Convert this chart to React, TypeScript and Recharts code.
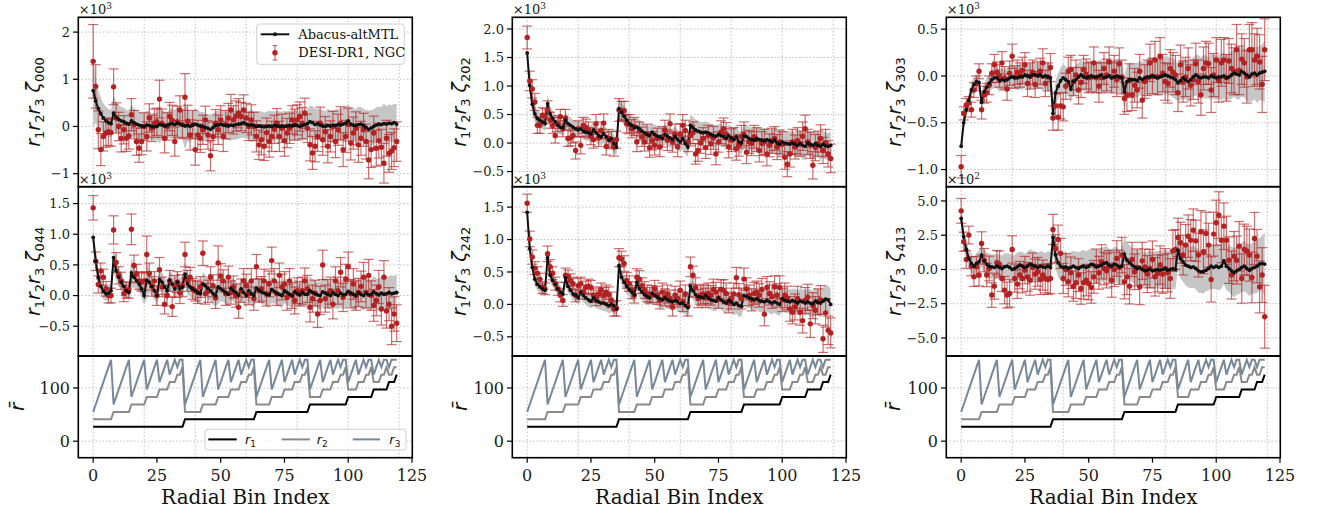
import React from 'react';
import {
  ComposedChart, Line, Area, Scatter, ErrorBar, XAxis, YAxis, CartesianGrid, ReferenceLine,
} from 'recharts';

const SERIF = '"DejaVu Serif", serif';
const SANS = '"DejaVu Sans", sans-serif';
const RED = '#b22222';

// radial bin index (x categories) and axis ticks
const binIndex = Array.from({ length: 120 }, (_, i) => i);
const xTicks = [0, 25, 50, 75, 100, 125];
const xGridLines = [0, 20, 40, 60, 80, 100, 120];

// mean radius of each triangle side per bin index
const r1Values = [
  27, 27, 27, 27, 27, 27, 27, 27, 27, 27,
  27, 27, 27, 27, 27, 27, 27, 27, 27, 27,
  27, 27, 27, 27, 27, 27, 27, 27, 27, 27,
  27, 27, 27, 27, 27, 27, 41, 41, 41, 41,
  41, 41, 41, 41, 41, 41, 41, 41, 41, 41,
  41, 41, 41, 41, 41, 41, 41, 41, 41, 41,
  41, 41, 41, 41, 55, 55, 55, 55, 55, 55,
  55, 55, 55, 55, 55, 55, 55, 55, 55, 55,
  55, 55, 55, 55, 55, 69, 69, 69, 69, 69,
  69, 69, 69, 69, 69, 69, 69, 69, 69, 69,
  83, 83, 83, 83, 83, 83, 83, 83, 83, 83,
  97, 97, 97, 97, 97, 97, 111, 111, 111, 125,
];
const r2Values = [
  41, 41, 41, 41, 41, 41, 41, 41, 55, 55,
  55, 55, 55, 55, 55, 69, 69, 69, 69, 69,
  69, 83, 83, 83, 83, 83, 97, 97, 97, 97,
  111, 111, 111, 125, 125, 139, 55, 55, 55, 55,
  55, 55, 55, 69, 69, 69, 69, 69, 69, 83,
  83, 83, 83, 83, 97, 97, 97, 97, 111, 111,
  111, 125, 125, 139, 69, 69, 69, 69, 69, 69,
  83, 83, 83, 83, 83, 97, 97, 97, 97, 111,
  111, 111, 125, 125, 139, 83, 83, 83, 83, 83,
  97, 97, 97, 97, 111, 111, 111, 125, 125, 139,
  97, 97, 97, 97, 111, 111, 111, 125, 125, 139,
  111, 111, 111, 125, 125, 139, 125, 125, 139, 139,
];
const r3Values = [
  55, 69, 83, 97, 111, 125, 139, 153, 69, 83,
  97, 111, 125, 139, 153, 83, 97, 111, 125, 139,
  153, 97, 111, 125, 139, 153, 111, 125, 139, 153,
  125, 139, 153, 139, 153, 153, 69, 83, 97, 111,
  125, 139, 153, 83, 97, 111, 125, 139, 153, 97,
  111, 125, 139, 153, 111, 125, 139, 153, 125, 139,
  153, 139, 153, 153, 83, 97, 111, 125, 139, 153,
  97, 111, 125, 139, 153, 111, 125, 139, 153, 125,
  139, 153, 139, 153, 153, 97, 111, 125, 139, 153,
  111, 125, 139, 153, 125, 139, 153, 139, 153, 153,
  111, 125, 139, 153, 125, 139, 153, 139, 153, 153,
  125, 139, 153, 139, 153, 153, 139, 153, 153, 153,
];

// zeta_000 (x10^3)
const zeta000Model = [
  0.76, 0.54, 0.38, 0.27, 0.18, 0.12, 0.08, 0.06, 0.28, 0.2,
  0.15, 0.12, 0.1, 0.07, 0.05, 0.12, 0.08, 0.05, 0.03, 0.01,
  0.0, 0.03, 0.02, 0.0, -0.01, 0.0, 0.04, 0.03, 0.01, 0.02,
  0.05, 0.06, 0.04, 0.07, 0.05, 0.03, 0.01, 0.02, 0.0, 0.03,
  0.05, 0.03, 0.01, 0.0, -0.02, -0.04, -0.06, -0.02, 0.02, 0.03,
  0.05, 0.03, 0.02, 0.01, 0.03, 0.02, 0.04, 0.05, 0.06, 0.08,
  0.05, 0.03, 0.04, 0.02, 0.0, 0.01, 0.0, -0.01, 0.0, 0.01,
  0.0, 0.02, 0.01, 0.0, 0.01, 0.0, 0.01, 0.02, 0.01, 0.03,
  0.02, 0.0, 0.02, 0.04, 0.06, 0.1, 0.08, 0.04, 0.06, 0.03,
  0.01, 0.0, 0.02, 0.01, 0.03, 0.02, 0.04, 0.03, 0.05, 0.07,
  0.12, 0.05, 0.03, 0.02, 0.04, 0.05, 0.02, -0.02, -0.06, -0.03,
  0.0, 0.03, 0.05, 0.04, 0.06, 0.05, 0.07, 0.06, 0.08, 0.05,
];
const zeta000Obs = [
  1.38, 0.85, -0.07, -0.49, -0.21, -0.14, -0.11, -0.13, 0.84, 0.18,
  0.0, -0.25, -0.07, -0.25, -0.2, 0.25, 0.04, -0.32, -0.46, -0.32,
  0.0, -0.21, 0.18, -0.04, 0.07, 0.1, 0.58, 0.07, -0.25, 0.0,
  0.21, 0.13, -0.32, 0.1, 0.35, 0.04, 0.62, 0.11, -0.18, 0.04,
  -0.49, -0.18, -0.25, -0.07, 0.14, -0.18, -0.62, -0.21, 0.07, -0.07,
  0.14, -0.21, 0.04, 0.18, 0.35, 0.14, 0.22, 0.28, 0.21, 0.35,
  0.18, 0.0, 0.14, 0.0, -0.21, -0.39, -0.28, -0.42, -0.13, -0.32,
  -0.21, -0.06, 0.07, -0.21, -0.04, -0.3, -0.14, -0.04, 0.14, 0.04,
  0.14, 0.21, 0.07, 0.28, -0.04, -0.39, -0.56, -0.42, -0.21, 0.07,
  -0.28, -0.11, -0.42, -0.21, 0.0, -0.32, -0.07, 0.07, -0.49, -0.21,
  0.04, -0.35, -0.14, -0.04, -0.39, -0.25, -0.07, -0.32, -0.71, -0.49,
  -0.14, -0.46, -0.3, -0.44, -0.78, -0.25, -0.57, -0.52, -0.45, -0.32,
];
const zeta000Err = [
  0.78, 0.46, 0.4, 0.34, 0.31, 0.3, 0.29, 0.29, 0.38, 0.32,
  0.3, 0.29, 0.3, 0.28, 0.28, 0.34, 0.3, 0.29, 0.3, 0.28,
  0.29, 0.31, 0.3, 0.28, 0.3, 0.29, 0.4, 0.3, 0.31, 0.29,
  0.3, 0.32, 0.31, 0.33, 0.3, 0.3, 0.5, 0.34, 0.32, 0.3,
  0.33, 0.31, 0.3, 0.31, 0.29, 0.3, 0.32, 0.3, 0.29, 0.31,
  0.3, 0.32, 0.3, 0.31, 0.33, 0.3, 0.32, 0.31, 0.3, 0.32,
  0.31, 0.3, 0.32, 0.3, 0.33, 0.31, 0.32, 0.3, 0.31, 0.33,
  0.32, 0.3, 0.31, 0.32, 0.3, 0.33, 0.31, 0.32, 0.3, 0.33,
  0.32, 0.31, 0.33, 0.32, 0.3, 0.34, 0.35, 0.33, 0.32, 0.34,
  0.33, 0.32, 0.35, 0.33, 0.32, 0.34, 0.33, 0.35, 0.36, 0.34,
  0.35, 0.36, 0.34, 0.35, 0.37, 0.36, 0.35, 0.37, 0.4, 0.38,
  0.36, 0.38, 0.37, 0.38, 0.42, 0.38, 0.4, 0.39, 0.4, 0.42,
];

// zeta_044 (x10^3)
const zeta044Model = [
  0.95, 0.56, 0.3, 0.15, 0.07, 0.03, 0.04, 0.08, 0.62, 0.41,
  0.3, 0.22, 0.15, 0.08, 0.05, 0.37, 0.3, 0.24, 0.19, 0.11,
  0.0, 0.25, 0.22, 0.15, 0.08, 0.0, 0.26, 0.22, 0.14, 0.08,
  0.25, 0.19, 0.11, 0.22, 0.11, 0.14, 0.35, 0.19, 0.14, 0.11,
  0.08, 0.05, 0.03, 0.19, 0.16, 0.12, 0.08, 0.03, 0.0, 0.14,
  0.11, 0.08, 0.05, 0.02, 0.12, 0.08, 0.05, 0.0, 0.11, 0.05,
  0.0, 0.08, 0.03, 0.0, 0.12, 0.09, 0.06, 0.04, 0.02, 0.01,
  0.1, 0.07, 0.04, 0.02, 0.0, 0.08, 0.05, 0.02, 0.0, 0.06,
  0.03, 0.01, 0.05, 0.02, 0.02, 0.08, 0.05, 0.03, 0.01, 0.0,
  0.06, 0.04, 0.02, 0.0, 0.05, 0.02, 0.0, 0.04, 0.01, 0.02,
  0.07, 0.04, 0.02, 0.0, 0.05, 0.02, 0.0, 0.04, 0.01, 0.02,
  0.06, 0.03, 0.01, 0.04, 0.02, 0.03, 0.05, 0.03, 0.04, 0.05,
];
const zeta044Obs = [
  1.43, 0.56, 0.18, 0.4, 0.3, 0.11, 0.0, 0.0, 1.07, 0.54,
  0.33, 0.24, 0.03, 0.09, 0.09, 1.08, 0.49, 0.36, 0.24, 0.22,
  0.24, 0.67, 0.36, 0.15, 0.24, 0.0, 0.42, 0.14, -0.14, 0.0,
  0.24, -0.18, 0.15, 0.22, 0.04, 0.16, 0.67, 0.24, 0.3, 0.11,
  0.08, 0.05, 0.14, 0.69, 0.03, 0.07, 0.3, 0.16, -0.04, 0.53,
  0.32, 0.24, 0.03, 0.3, 0.05, 0.14, 0.0, -0.19, 0.08, 0.24,
  0.16, 0.03, 0.24, -0.05, 0.47, 0.08, 0.11, 0.24, 0.03, 0.19,
  0.57, 0.24, 0.03, 0.33, 0.14, 0.19, -0.03, 0.24, 0.0, -0.08,
  0.08, 0.03, 0.08, 0.24, 0.11, -0.19, -0.05, 0.04, -0.3, -0.08,
  0.5, -0.05, 0.03, 0.08, -0.14, 0.24, 0.08, 0.38, -0.03, 0.27,
  0.47, 0.03, 0.19, 0.0, 0.05, 0.15, 0.3, 0.05, 0.33, 0.0,
  -0.16, -0.08, 0.14, -0.22, 0.3, -0.25, -0.14, -0.5, -0.3, -0.45,
];
const zeta044Err = [
  0.2, 0.15, 0.14, 0.13, 0.13, 0.12, 0.12, 0.12, 0.23, 0.16,
  0.14, 0.14, 0.13, 0.13, 0.13, 0.25, 0.17, 0.15, 0.14, 0.15,
  0.15, 0.3, 0.17, 0.16, 0.15, 0.16, 0.2, 0.16, 0.16, 0.17,
  0.17, 0.16, 0.18, 0.17, 0.17, 0.18, 0.2, 0.17, 0.16, 0.17,
  0.17, 0.18, 0.17, 0.2, 0.17, 0.18, 0.17, 0.18, 0.17, 0.28,
  0.2, 0.18, 0.19, 0.18, 0.19, 0.18, 0.19, 0.18, 0.19, 0.2,
  0.19, 0.18, 0.2, 0.19, 0.2, 0.19, 0.2, 0.19, 0.2, 0.21,
  0.22, 0.2, 0.19, 0.2, 0.21, 0.2, 0.21, 0.2, 0.21, 0.22,
  0.21, 0.2, 0.22, 0.21, 0.22, 0.24, 0.22, 0.21, 0.22, 0.23,
  0.24, 0.22, 0.23, 0.22, 0.24, 0.23, 0.22, 0.24, 0.23, 0.24,
  0.24, 0.23, 0.25, 0.24, 0.23, 0.25, 0.24, 0.25, 0.26, 0.24,
  0.26, 0.25, 0.27, 0.26, 0.27, 0.28, 0.27, 0.3, 0.28, 0.3,
];

// zeta_202 (x10^3)
const zeta202Model = [
  1.58, 1.01, 0.68, 0.51, 0.43, 0.4, 0.37, 0.34, 0.69, 0.51,
  0.43, 0.37, 0.31, 0.28, 0.27, 0.4, 0.34, 0.31, 0.28, 0.25,
  0.23, 0.25, 0.21, 0.19, 0.18, 0.16, 0.23, 0.18, 0.13, 0.11,
  0.16, 0.11, 0.05, 0.08, -0.01, -0.07, 0.6, 0.54, 0.47, 0.4,
  0.34, 0.31, 0.27, 0.28, 0.25, 0.21, 0.18, 0.15, 0.13, 0.19,
  0.15, 0.12, 0.11, 0.08, 0.15, 0.12, 0.09, 0.06, 0.11, 0.06,
  0.02, 0.08, -0.01, -0.07, 0.31, 0.27, 0.23, 0.21, 0.19, 0.18,
  0.19, 0.18, 0.15, 0.13, 0.12, 0.15, 0.13, 0.11, 0.08, 0.13,
  0.09, 0.06, 0.11, 0.02, 0.0, 0.12, 0.11, 0.08, 0.06, 0.05,
  0.08, 0.06, 0.05, 0.04, 0.06, 0.04, 0.02, 0.05, 0.0, -0.02,
  0.02, 0.0, -0.01, -0.02, 0.0, -0.02, -0.04, -0.01, -0.04, -0.06,
  0.0, -0.02, -0.04, -0.01, -0.04, -0.06, -0.02, -0.05, -0.06, -0.04,
];
const zeta202Obs = [
  1.85, 1.09, 0.95, 0.72, 0.31, 0.31, 0.49, 0.47, 0.58, 0.4,
  0.31, 0.13, 0.34, 0.46, 0.25, 0.44, 0.08, 0.09, 0.13, -0.13,
  0.25, -0.04, 0.31, 0.27, 0.23, 0.12, 0.06, 0.34, 0.09, 0.22,
  0.35, -0.06, 0.08, 0.05, -0.07, 0.06, 0.58, 0.56, 0.57, 0.34,
  0.33, 0.25, 0.29, 0.02, 0.21, 0.11, 0.02, 0.16, -0.08, 0.04,
  -0.04, 0.08, -0.07, 0.11, 0.23, 0.05, 0.34, 0.02, 0.15, -0.07,
  0.16, 0.31, 0.22, 0.02, 0.13, 0.18, -0.19, -0.13, 0.0, 0.08,
  -0.08, 0.13, -0.01, 0.09, -0.19, 0.02, 0.19, 0.25, 0.16, -0.07,
  0.05, 0.08, -0.1, -0.04, 0.11, 0.16, -0.16, 0.02, -0.01, 0.11,
  0.06, -0.13, -0.01, 0.02, -0.19, -0.04, 0.04, 0.08, -0.07, 0.02,
  -0.02, -0.25, -0.37, -0.19, 0.02, -0.07, 0.04, -0.01, 0.12, 0.25,
  0.02, -0.04, -0.39, -0.08, -0.01, 0.08, -0.13, 0.0, -0.19, -0.27,
];
const zeta202Err = [
  0.2, 0.17, 0.16, 0.15, 0.14, 0.14, 0.13, 0.13, 0.16, 0.14,
  0.14, 0.13, 0.14, 0.13, 0.14, 0.15, 0.14, 0.14, 0.13, 0.15,
  0.14, 0.15, 0.14, 0.15, 0.14, 0.15, 0.15, 0.16, 0.15, 0.15,
  0.16, 0.15, 0.16, 0.15, 0.16, 0.15, 0.2, 0.17, 0.16, 0.16,
  0.17, 0.16, 0.16, 0.17, 0.16, 0.17, 0.16, 0.17, 0.17, 0.16,
  0.17, 0.18, 0.17, 0.18, 0.17, 0.18, 0.17, 0.18, 0.18, 0.17,
  0.18, 0.19, 0.18, 0.17, 0.18, 0.19, 0.18, 0.19, 0.18, 0.19,
  0.19, 0.18, 0.19, 0.2, 0.19, 0.18, 0.2, 0.19, 0.2, 0.19,
  0.2, 0.19, 0.2, 0.19, 0.2, 0.21, 0.2, 0.2, 0.21, 0.2,
  0.21, 0.2, 0.21, 0.22, 0.21, 0.2, 0.22, 0.21, 0.22, 0.21,
  0.22, 0.21, 0.22, 0.23, 0.22, 0.21, 0.23, 0.22, 0.25, 0.24,
  0.22, 0.23, 0.24, 0.23, 0.22, 0.24, 0.23, 0.24, 0.23, 0.25,
];

// zeta_242 (x10^3)
const zeta242Model = [
  1.42, 0.86, 0.57, 0.39, 0.31, 0.27, 0.24, 0.22, 0.72, 0.45,
  0.37, 0.31, 0.24, 0.19, 0.16, 0.41, 0.28, 0.22, 0.16, 0.14,
  0.1, 0.19, 0.14, 0.1, 0.07, 0.05, 0.1, 0.06, 0.04, 0.02,
  0.02, 0.0, -0.02, 0.0, -0.02, -0.07, 0.6, 0.42, 0.34, 0.28,
  0.23, 0.19, 0.15, 0.34, 0.24, 0.19, 0.15, 0.12, 0.1, 0.17,
  0.14, 0.11, 0.09, 0.07, 0.1, 0.07, 0.05, 0.04, 0.06, 0.04,
  0.01, 0.02, -0.02, -0.05, 0.28, 0.21, 0.15, 0.12, 0.11, 0.1,
  0.14, 0.1, 0.07, 0.06, 0.05, 0.1, 0.07, 0.04, 0.02, 0.06,
  0.04, 0.0, 0.02, -0.02, -0.03, 0.14, 0.12, 0.1, 0.09, 0.07,
  0.09, 0.06, 0.05, 0.04, 0.06, 0.04, 0.02, 0.04, 0.02, 0.0,
  0.09, 0.06, 0.05, 0.04, 0.06, 0.04, 0.02, 0.05, 0.04, 0.02,
  0.04, 0.02, 0.01, 0.05, 0.03, 0.02, 0.05, 0.08, 0.07, 0.0,
];
const zeta242Obs = [
  1.56, 1.01, 0.73, 0.56, 0.48, 0.39, 0.26, 0.24, 0.78, 0.58,
  0.48, 0.32, 0.24, 0.14, 0.06, 0.45, 0.43, 0.37, 0.32, 0.14,
  0.29, 0.32, 0.19, 0.26, 0.28, 0.26, 0.14, 0.1, 0.16, 0.22,
  0.14, 0.19, 0.15, 0.07, -0.07, -0.06, 0.72, 0.7, 0.63, 0.37,
  0.32, 0.22, 0.14, 0.42, 0.39, 0.29, 0.22, 0.17, 0.14, 0.16,
  0.24, 0.14, 0.06, 0.19, 0.11, 0.16, 0.09, -0.04, 0.14, 0.09,
  0.22, 0.04, 0.16, -0.03, 0.58, 0.45, 0.26, 0.09, 0.14, 0.16,
  0.1, 0.17, 0.14, 0.23, 0.19, 0.1, 0.23, 0.22, 0.17, 0.02,
  0.09, 0.16, 0.41, 0.15, 0.09, 0.39, 0.24, 0.14, 0.07, 0.17,
  0.19, 0.14, 0.23, -0.15, 0.26, 0.17, 0.12, 0.27, 0.14, 0.26,
  0.07, 0.14, 0.1, -0.07, -0.12, -0.04, 0.09, -0.12, -0.25, 0.06,
  0.11, -0.3, -0.02, -0.09, 0.04, 0.07, -0.53, -0.13, -0.4, -0.44,
];
const zeta242Err = [
  0.14, 0.12, 0.11, 0.1, 0.1, 0.09, 0.09, 0.09, 0.12, 0.11,
  0.1, 0.1, 0.1, 0.1, 0.09, 0.11, 0.1, 0.1, 0.1, 0.1,
  0.11, 0.1, 0.11, 0.1, 0.11, 0.11, 0.11, 0.12, 0.11, 0.11,
  0.12, 0.11, 0.12, 0.12, 0.11, 0.12, 0.14, 0.12, 0.12, 0.12,
  0.12, 0.13, 0.12, 0.13, 0.13, 0.12, 0.13, 0.13, 0.12, 0.13,
  0.13, 0.14, 0.13, 0.14, 0.13, 0.14, 0.13, 0.14, 0.14, 0.13,
  0.14, 0.15, 0.14, 0.15, 0.15, 0.14, 0.15, 0.14, 0.15, 0.15,
  0.15, 0.16, 0.15, 0.16, 0.15, 0.16, 0.15, 0.16, 0.16, 0.15,
  0.16, 0.17, 0.16, 0.17, 0.16, 0.17, 0.17, 0.16, 0.17, 0.17,
  0.17, 0.18, 0.17, 0.18, 0.17, 0.18, 0.18, 0.17, 0.18, 0.18,
  0.18, 0.19, 0.18, 0.19, 0.18, 0.2, 0.19, 0.2, 0.19, 0.2,
  0.2, 0.21, 0.2, 0.21, 0.2, 0.22, 0.21, 0.22, 0.22, 0.23,
];

// zeta_303 (x10^3)
const zeta303Model = [
  -0.75, -0.5, -0.36, -0.26, -0.15, -0.09, -0.06, -0.07, -0.28, -0.17,
  -0.12, -0.08, -0.04, -0.02, -0.02, -0.05, -0.04, -0.05, -0.04, -0.02,
  -0.01, -0.02, -0.02, -0.01, -0.01, 0.01, 0.0, -0.01, 0.01, 0.01,
  0.0, 0.01, -0.01, 0.0, -0.01, -0.02, -0.4, -0.18, -0.11, -0.05,
  -0.02, -0.04, -0.06, -0.14, -0.06, -0.04, -0.01, 0.01, -0.01, -0.02,
  -0.01, 0.0, -0.01, -0.01, 0.0, 0.01, -0.02, -0.01, 0.0, -0.02,
  -0.01, 0.0, -0.01, -0.02, -0.17, -0.06, -0.04, -0.04, -0.04, -0.05,
  -0.02, -0.04, -0.02, -0.01, -0.01, 0.0, -0.01, -0.02, -0.01, 0.0,
  0.01, 0.0, -0.01, -0.02, -0.04, -0.07, -0.05, -0.02, -0.04, -0.06,
  -0.04, -0.01, 0.01, -0.01, -0.02, -0.01, -0.01, -0.02, 0.0, -0.01,
  -0.02, -0.01, -0.01, 0.0, -0.02, -0.01, 0.01, 0.03, 0.02, 0.01,
  0.05, 0.03, 0.01, -0.01, 0.02, 0.03, 0.01, 0.03, 0.04, 0.05,
];
const zeta303Obs = [
  -0.97, -0.4, -0.31, -0.29, -0.36, -0.15, -0.08, 0.05, -0.36, -0.2,
  -0.18, -0.1, 0.03, 0.12, 0.04, 0.0, 0.14, -0.02, -0.14, 0.03,
  0.21, -0.01, 0.04, 0.01, 0.06, 0.12, -0.08, 0.0, 0.04, -0.09,
  0.01, 0.05, 0.14, -0.08, -0.01, 0.09, -0.45, -0.32, -0.44, -0.32,
  -0.33, -0.11, 0.05, 0.07, -0.06, 0.01, -0.15, -0.07, 0.07, 0.02,
  -0.02, -0.01, 0.14, -0.02, -0.11, -0.02, 0.08, 0.01, 0.15, -0.01,
  0.05, -0.04, 0.13, -0.01, -0.24, -0.2, -0.05, -0.2, -0.1, -0.15,
  0.05, -0.26, -0.06, -0.02, 0.14, 0.0, 0.17, -0.01, 0.21, 0.03,
  -0.06, -0.08, 0.08, 0.04, 0.01, -0.18, 0.12, -0.06, -0.01, 0.08,
  -0.1, -0.04, 0.13, -0.06, -0.2, 0.08, 0.14, 0.13, -0.15, 0.01,
  0.17, -0.05, 0.14, 0.17, -0.02, 0.16, 0.08, 0.05, 0.28, 0.06,
  0.18, 0.14, -0.01, 0.28, 0.28, 0.17, 0.21, 0.15, -0.09, 0.28,
];
const zeta303Err = [
  0.12, 0.07, 0.07, 0.07, 0.08, 0.08, 0.08, 0.08, 0.1, 0.09,
  0.1, 0.1, 0.1, 0.11, 0.11, 0.12, 0.12, 0.12, 0.12, 0.13,
  0.13, 0.12, 0.13, 0.13, 0.14, 0.13, 0.14, 0.14, 0.13, 0.14,
  0.14, 0.14, 0.15, 0.14, 0.15, 0.15, 0.13, 0.13, 0.14, 0.14,
  0.15, 0.14, 0.15, 0.15, 0.15, 0.16, 0.15, 0.16, 0.15, 0.16,
  0.16, 0.16, 0.17, 0.16, 0.17, 0.16, 0.17, 0.17, 0.16, 0.17,
  0.17, 0.18, 0.17, 0.18, 0.17, 0.18, 0.18, 0.17, 0.18, 0.19,
  0.18, 0.19, 0.18, 0.19, 0.2, 0.19, 0.2, 0.19, 0.2, 0.2,
  0.2, 0.21, 0.2, 0.21, 0.21, 0.2, 0.21, 0.22, 0.21, 0.22,
  0.22, 0.21, 0.22, 0.23, 0.22, 0.23, 0.23, 0.22, 0.24, 0.23,
  0.24, 0.23, 0.25, 0.24, 0.25, 0.24, 0.26, 0.25, 0.27, 0.26,
  0.27, 0.26, 0.28, 0.27, 0.29, 0.28, 0.3, 0.29, 0.3, 0.33,
];

// zeta_413 (x10^2)
const zeta413Model = [
  3.72, 2.38, 1.46, 0.8, 0.44, 0.24, 0.44, 0.56, 1.05, 0.63,
  0.39, 0.24, 0.19, 0.15, 0.24, 0.15, 0.07, 0.19, 0.24, 0.15,
  0.0, 0.07, 0.19, 0.32, 0.24, 0.15, 0.24, 0.39, 0.32, 0.24,
  0.15, 0.24, 0.19, 0.15, 0.24, 0.15, 2.34, 1.05, 0.49, 0.24,
  0.15, 0.19, 0.07, 0.15, 0.24, 0.15, 0.07, 0.19, 0.24, 0.15,
  0.24, 0.39, 0.32, 0.19, 0.24, 0.32, 0.44, 0.49, 0.32, 0.24,
  0.39, 0.32, 0.19, 0.24, 1.12, 0.68, 0.49, 0.32, 0.19, 0.07,
  0.15, 0.0, -0.1, -0.05, 0.0, -0.1, -0.05, 0.0, -0.05, 0.0,
  0.07, -0.05, 0.0, 0.05, 0.0, 1.41, 0.8, 0.56, 0.32, 0.24,
  0.15, 0.19, 0.07, -0.1, -0.17, -0.15, -0.05, 0.07, 0.24, 0.15,
  0.24, 0.15, 0.24, 0.63, 0.24, 0.07, -0.1, -0.24, -0.1, 0.0,
  0.15, 0.24, 0.07, -0.05, 0.07, 0.15, 0.24, 0.39, 0.44, 0.39,
];
const zeta413Obs = [
  4.28, 2.02, 0.73, 2.51, 0.24, -0.54, 0.19, -0.41, 1.9, 0.68,
  -0.41, 0.07, -1.87, -1.22, 0.49, 0.39, -0.66, -1.51, -1.87, -1.75,
  1.46, -0.66, -1.07, -0.41, -0.66, -0.05, -0.54, -0.78, 0.15, -0.34,
  -0.17, -0.73, -0.41, -0.66, -0.73, -0.66, 2.92, 1.53, 2.19, 1.17,
  -0.66, 0.0, -0.9, -0.24, -1.22, -0.97, -0.41, -1.39, -0.97, -0.78,
  -1.02, -1.31, -0.54, 0.24, -0.24, 0.56, 0.07, -0.1, 0.19, -0.78,
  0.0, 0.8, 0.15, 1.05, -0.9, -0.54, -1.22, 0.73, -0.17, 0.15,
  -1.27, 0.63, 0.19, -0.34, 0.07, 0.73, -0.54, -0.29, 0.32, -0.34,
  0.07, -0.24, -0.66, 1.36, 1.46, 2.34, 1.95, 1.05, 1.78, 2.43,
  2.14, 2.87, 2.09, 1.05, 2.75, 1.29, 2.63, 1.78, -0.73, 2.58,
  3.41, 3.97, 2.14, 3.16, 2.14, 0.68, -0.41, 0.97, 0.68, 1.7,
  -0.66, 1.46, 1.36, 1.05, -0.58, 2.26, 0.97, -1.27, -0.41, -3.45,
];
const zeta413Err = [
  0.9, 0.7, 0.65, 0.65, 0.7, 0.7, 0.75, 0.8, 0.85, 0.85,
  0.85, 0.9, 0.9, 0.95, 0.9, 0.95, 0.95, 1.0, 0.95, 1.0,
  1.0, 1.0, 1.05, 1.0, 1.05, 1.0, 1.05, 1.1, 1.05, 1.1,
  1.05, 1.1, 1.1, 1.05, 1.1, 1.1, 1.1, 1.0, 1.05, 1.1,
  1.1, 1.15, 1.1, 1.15, 1.1, 1.15, 1.2, 1.15, 1.2, 1.15,
  1.2, 1.15, 1.2, 1.25, 1.2, 1.25, 1.2, 1.25, 1.2, 1.25,
  1.25, 1.3, 1.25, 1.3, 1.25, 1.3, 1.3, 1.25, 1.3, 1.35,
  1.3, 1.35, 1.3, 1.35, 1.4, 1.35, 1.4, 1.35, 1.4, 1.4,
  1.45, 1.4, 1.45, 1.5, 1.45, 1.4, 1.5, 1.45, 1.5, 1.55,
  1.5, 1.55, 1.5, 1.6, 1.55, 1.6, 1.55, 1.6, 1.65, 1.6,
  1.65, 1.7, 1.65, 1.7, 1.75, 1.7, 1.75, 1.8, 1.75, 1.8,
  1.8, 1.85, 1.8, 1.9, 1.85, 1.9, 1.95, 1.9, 2.0, 2.3,
];

// layout (page px)
const COL_LEFT = [78.3, 512.3, 946.3];
const PLOT_W = 334;
const ROW_TOP = [17.3, 186.7, 356];
const ROW_H = [169.4, 169.3, 101.7];
const Y_W = 60;
const PAD = 4;
const PAD_R_BOTTOM = 24;
const X_H = 30;
const X_DOMAIN: [number, number] = [-5.95, 125];
const GRID = '#b8b8b8';

const fmtTick = (digits: number) => (v: number) => {
  const s = Math.abs(v).toFixed(digits);
  return v < 0 ? '\u2212' + s : s;
};

const panels = [
  { col: 0, row: 0, model: zeta000Model, obs: zeta000Obs, err: zeta000Err, domain: [-1.27, 2.32], ticks: [-1, 0, 1, 2], digits: 0, sub: '000', pow: '3' },
  { col: 0, row: 1, model: zeta044Model, obs: zeta044Obs, err: zeta044Err, domain: [-0.99, 1.77], ticks: [-0.5, 0, 0.5, 1, 1.5], digits: 1, sub: '044', pow: '3' },
  { col: 1, row: 0, model: zeta202Model, obs: zeta202Obs, err: zeta202Err, domain: [-0.76, 2.21], ticks: [-0.5, 0, 0.5, 1, 1.5, 2], digits: 1, sub: '202', pow: '3' },
  { col: 1, row: 1, model: zeta242Model, obs: zeta242Obs, err: zeta242Err, domain: [-0.8, 1.81], ticks: [-0.5, 0, 0.5, 1, 1.5], digits: 1, sub: '242', pow: '3' },
  { col: 2, row: 0, model: zeta303Model, obs: zeta303Obs, err: zeta303Err, domain: [-1.18, 0.63], ticks: [-1, -0.5, 0, 0.5], digits: 1, sub: '303', pow: '3' },
  { col: 2, row: 1, model: zeta413Model, obs: zeta413Obs, err: zeta413Err, domain: [-6.34, 6.02], ticks: [-5, -2.5, 0, 2.5, 5], digits: 1, sub: '413', pow: '2' },
];

const LABEL_X = [40, 466, 901];
const RBAR_X = [24, 467, 900];

function RedDot(p: any) {
  if (p.cx == null || p.cy == null) return null;
  return <circle cx={p.cx} cy={p.cy} r={2.7} fill={RED} />;
}

function ZetaPanel({ cfg }: { cfg: typeof panels[number] }) {
  const rows = binIndex.map(i => ({
    i,
    model: cfg.model[i],
    obs: cfg.obs[i],
    err: cfg.err[i],
    band: [cfg.model[i] - cfg.err[i], cfg.model[i] + cfg.err[i]],
  }));
  const w = Y_W + PLOT_W + PAD;
  const h = PAD + ROW_H[cfg.row] + PAD;
  return (
    <div style={{ position: 'absolute', left: COL_LEFT[cfg.col] - Y_W, top: ROW_TOP[cfg.row] - PAD, width: w, height: h }}>
      <ComposedChart width={w} height={h} data={rows} margin={{ top: PAD, right: PAD, bottom: PAD, left: 0 }}>
        <CartesianGrid vertical={false} stroke={GRID} strokeDasharray="1.5 2" strokeWidth={0.9} />
        {xGridLines.map(v => (
          <ReferenceLine key={v} x={v} stroke={GRID} strokeDasharray="1.5 2" strokeWidth={0.9} />
        ))}
        <XAxis dataKey="i" type="number" domain={X_DOMAIN} hide allowDataOverflow />
        <YAxis
          type="number" domain={cfg.domain} ticks={cfg.ticks} width={Y_W} allowDataOverflow interval={0}
          axisLine={false} tickSize={5} tickMargin={3}
          tickLine={{ stroke: '#000', strokeWidth: 1.2 }}
          tick={{ fontFamily: SERIF, fontSize: 13, fill: '#1a1a1a' }}
          tickFormatter={fmtTick(cfg.digits)}
        />
        <Area dataKey="band" type="linear" stroke="none" fill="#c6c6c6" fillOpacity={1} isAnimationActive={false} />
        <Scatter dataKey="obs" fill={RED} shape={RedDot} isAnimationActive={false}>
          <ErrorBar dataKey="err" direction="y" width={5} stroke="rgba(178,34,34,0.65)" strokeWidth={1.2} isAnimationActive={false} />
        </Scatter>
        <Line dataKey="model" type="linear" stroke="#111" strokeWidth={2} dot={{ r: 1.9, fill: '#111', stroke: 'none' }} isAnimationActive={false} />
      </ComposedChart>
    </div>
  );
}

function RadiusPanel({ col }: { col: number }) {
  const rows = binIndex.map(i => ({ i, r1: r1Values[i], r2: r2Values[i], r3: r3Values[i] }));
  const w = Y_W + PLOT_W + PAD_R_BOTTOM;
  const h = PAD + ROW_H[2] + X_H;
  return (
    <div style={{ position: 'absolute', left: COL_LEFT[col] - Y_W, top: ROW_TOP[2] - PAD, width: w, height: h }}>
      <ComposedChart width={w} height={h} data={rows} margin={{ top: PAD, right: PAD_R_BOTTOM, bottom: 0, left: 0 }}>
        <CartesianGrid vertical={false} stroke={GRID} strokeDasharray="1.5 2" strokeWidth={0.9} />
        {xGridLines.map(v => (
          <ReferenceLine key={v} x={v} stroke={GRID} strokeDasharray="1.5 2" strokeWidth={0.9} />
        ))}
        <XAxis
          dataKey="i" type="number" domain={X_DOMAIN} ticks={xTicks} allowDataOverflow interval={0} height={X_H}
          axisLine={false} tickSize={5} tickMargin={7}
          tickLine={{ stroke: '#000', strokeWidth: 1.2 }}
          tick={{ fontFamily: SERIF, fontSize: 16, fill: '#1a1a1a' }}
        />
        <YAxis
          type="number" domain={[-31, 160]} ticks={[0, 100]} width={Y_W} allowDataOverflow interval={0}
          axisLine={false} tickSize={5} tickMargin={3}
          tickLine={{ stroke: '#000', strokeWidth: 1.2 }}
          tick={{ fontFamily: SERIF, fontSize: 16, fill: '#1a1a1a' }}
        />
        <Line dataKey="r1" type="linear" stroke="#000" strokeWidth={2} dot={false} isAnimationActive={false} />
        <Line dataKey="r2" type="linear" stroke="#8a8a8a" strokeWidth={2} dot={false} isAnimationActive={false} />
        <Line dataKey="r3" type="linear" stroke="#778899" strokeWidth={2} dot={false} isAnimationActive={false} />
      </ComposedChart>
    </div>
  );
}

function ZetaLabel({ x, y, sub }: { x: number; y: number; sub: string }) {
  return (
    <text transform={`translate(${x},${y}) rotate(-90)`} textAnchor="middle" fontFamily={SANS} fontSize={19} fill="#111">
      <tspan fontStyle="italic">r</tspan>
      <tspan fontSize={13} dy={4}>1</tspan>
      <tspan fontStyle="italic" dy={-4}>r</tspan>
      <tspan fontSize={13} dy={4}>2</tspan>
      <tspan fontStyle="italic" dy={-4}>r</tspan>
      <tspan fontSize={13} dy={4}>3</tspan>
      <tspan dy={-4}>{'\u00a0'}</tspan>
      <tspan fontStyle="italic">ζ</tspan>
      <tspan fontSize={13} dy={4}>{sub}</tspan>
    </text>
  );
}

function RLabel({ x, y, n }: { x: number; y: number; n: string }) {
  return (
    <text x={x} y={y} fontFamily={SANS} fontSize={13} fill="#111">
      <tspan fontStyle="italic">r</tspan>
      <tspan fontSize={9} dy={3}>{n}</tspan>
    </text>
  );
}

function Overlay() {
  return (
    <svg width={1326} height={515} style={{ position: 'absolute', left: 0, top: 0, pointerEvents: 'none' }}>
      {/* axes frames */}
      {[0, 1, 2].map(c => [0, 1, 2].map(r => (
        <rect key={`f${c}${r}`} x={COL_LEFT[c]} y={ROW_TOP[r]} width={PLOT_W} height={ROW_H[r]}
          fill="none" stroke="#000" strokeWidth={1.6} />
      )))}
      {/* y labels and offset texts */}
      {panels.map(p => (
        <g key={`l${p.sub}`}>
          <ZetaLabel x={LABEL_X[p.col]} y={ROW_TOP[p.row] + ROW_H[p.row] / 2} sub={p.sub} />
          <text x={COL_LEFT[p.col] + 0.5} y={ROW_TOP[p.row] - 3} fontFamily={SERIF} fontSize={13} fill="#1a1a1a">
            ×10<tspan fontSize={9} dy={-5}>{p.pow}</tspan>
          </text>
        </g>
      ))}
      {[0, 1, 2].map(c => (
        <g key={`b${c}`}>
          <text transform={`translate(${RBAR_X[c]},${ROW_TOP[2] + ROW_H[2] / 2}) rotate(-90)`} textAnchor="middle"
            fontFamily={SANS} fontStyle="italic" fontSize={20} fill="#111">{'r\u0304'}</text>
          <text x={COL_LEFT[c] + PLOT_W / 2} y={504} textAnchor="middle" fontFamily={SERIF} fontSize={20} fill="#111">
            Radial Bin Index
          </text>
        </g>
      ))}
      {/* legend: top-left panel */}
      <rect x={256.7} y={24} width={147.6} height={40.3} rx={3} fill="#fff" fillOpacity={0.8} stroke="#d0d0d0" strokeWidth={1} />
      <line x1={260.7} x2={289.3} y1={34.3} y2={34.3} stroke="#111" strokeWidth={2} />
      <circle cx={275} cy={34.3} r={2} fill="#111" />
      <text x={298.3} y={38.8} fontFamily={SERIF} fontSize={13} fill="#111">Abacus-altMTL</text>
      <line x1={275} x2={275} y1={45.5} y2={60} stroke="rgba(178,34,34,0.65)" strokeWidth={1.2} />
      <line x1={272.5} x2={277.5} y1={45.5} y2={45.5} stroke="rgba(178,34,34,0.65)" strokeWidth={1.2} />
      <line x1={272.5} x2={277.5} y1={60} y2={60} stroke="rgba(178,34,34,0.65)" strokeWidth={1.2} />
      <circle cx={275} cy={52.7} r={2.7} fill={RED} />
      <text x={298.3} y={57.2} fontFamily={SERIF} fontSize={13} fill="#111">DESI-DR1, NGC</text>
      {/* legend: bottom-left panel */}
      <rect x={205} y={429.3} width={201} height={20.7} rx={3} fill="#fff" fillOpacity={0.8} stroke="#d0d0d0" strokeWidth={1} />
      <line x1={208.3} x2={236.7} y1={439.4} y2={439.4} stroke="#000" strokeWidth={2} />
      <RLabel x={245} y={443.5} n="1" />
      <line x1={281.7} x2={310} y1={439.4} y2={439.4} stroke="#8a8a8a" strokeWidth={2} />
      <RLabel x={316.7} y={443.5} n="2" />
      <line x1={352.7} x2={380} y1={439.4} y2={439.4} stroke="#778899" strokeWidth={2} />
      <RLabel x={389.3} y={443.5} n="3" />
    </svg>
  );
}

export default function App() {
  return (
    <div style={{ position: 'absolute', left: 0, top: 0, width: 1326, height: 515, background: '#fff', overflow: 'hidden' }}>
      {panels.map(p => <ZetaPanel key={p.sub} cfg={p} />)}
      {[0, 1, 2].map(c => <RadiusPanel key={c} col={c} />)}
      <Overlay />
    </div>
  );
}
